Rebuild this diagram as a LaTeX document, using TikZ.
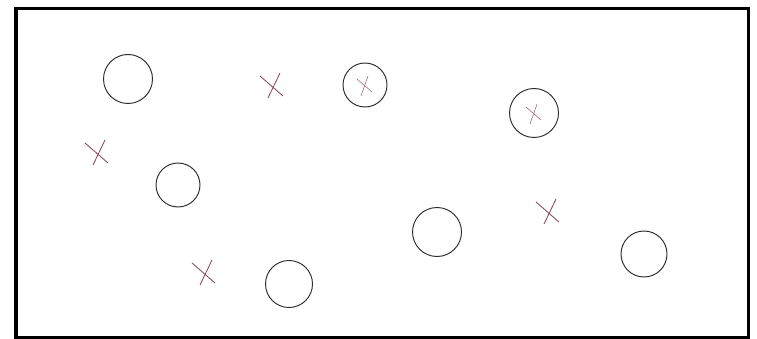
\documentclass[tikz,border=0pt]{standalone}
\definecolor{xmark}{RGB}{140,72,98}
\definecolor{ringc}{RGB}{45,45,45}
\tikzset{
  ring/.style={circle,draw=ringc,line width=0.95pt,inner sep=0pt},
  bigx/.style={draw=xmark,line width=0.85pt},
  smallx/.style={draw=xmark!80,line width=0.6pt}
}
\begin{document}
\begin{tikzpicture}[x=1pt,y=-1pt]
\useasboundingbox (0,0) rectangle (757,339);
\fill[white] (0,0) rectangle (757,339);
\draw[line width=3.5pt] (16,8.5) rectangle (748.5,337.5);
% circles
\node[ring,minimum size=49pt] (c1) at (128,79) {};
\node[ring,minimum size=44pt] (c2) at (365,85) {};
\node[ring,minimum size=49pt] (c3) at (534,113) {};
\node[ring,minimum size=44pt] (c4) at (178,185) {};
\node[ring,minimum size=47pt] (c5) at (289,284) {};
\node[ring,minimum size=49pt] (c6) at (437,232) {};
\node[ring,minimum size=46pt] (c7) at (644,254) {};
% big crosses
\foreach \n/\px/\py in {x1/97/153, x2/204/273, x3/272/86, x4/548/212}{
  \coordinate (\n) at (\px,\py);
  \draw[bigx] ([shift={(-12,-10)}]\n) -- ([shift={(11,10)}]\n);
  \draw[bigx] ([shift={(8,-13)}]\n) -- ([shift={(-4,12)}]\n);
}
% small crosses inside circles
\foreach \n in {c2,c3}{
  \draw[smallx] ([shift={(-8,-6)}]\n.center) -- ([shift={(7,7)}]\n.center);
  \draw[smallx] ([shift={(3,-9)}]\n.center) -- ([shift={(-4,11)}]\n.center);
}
\end{tikzpicture}
\end{document}
